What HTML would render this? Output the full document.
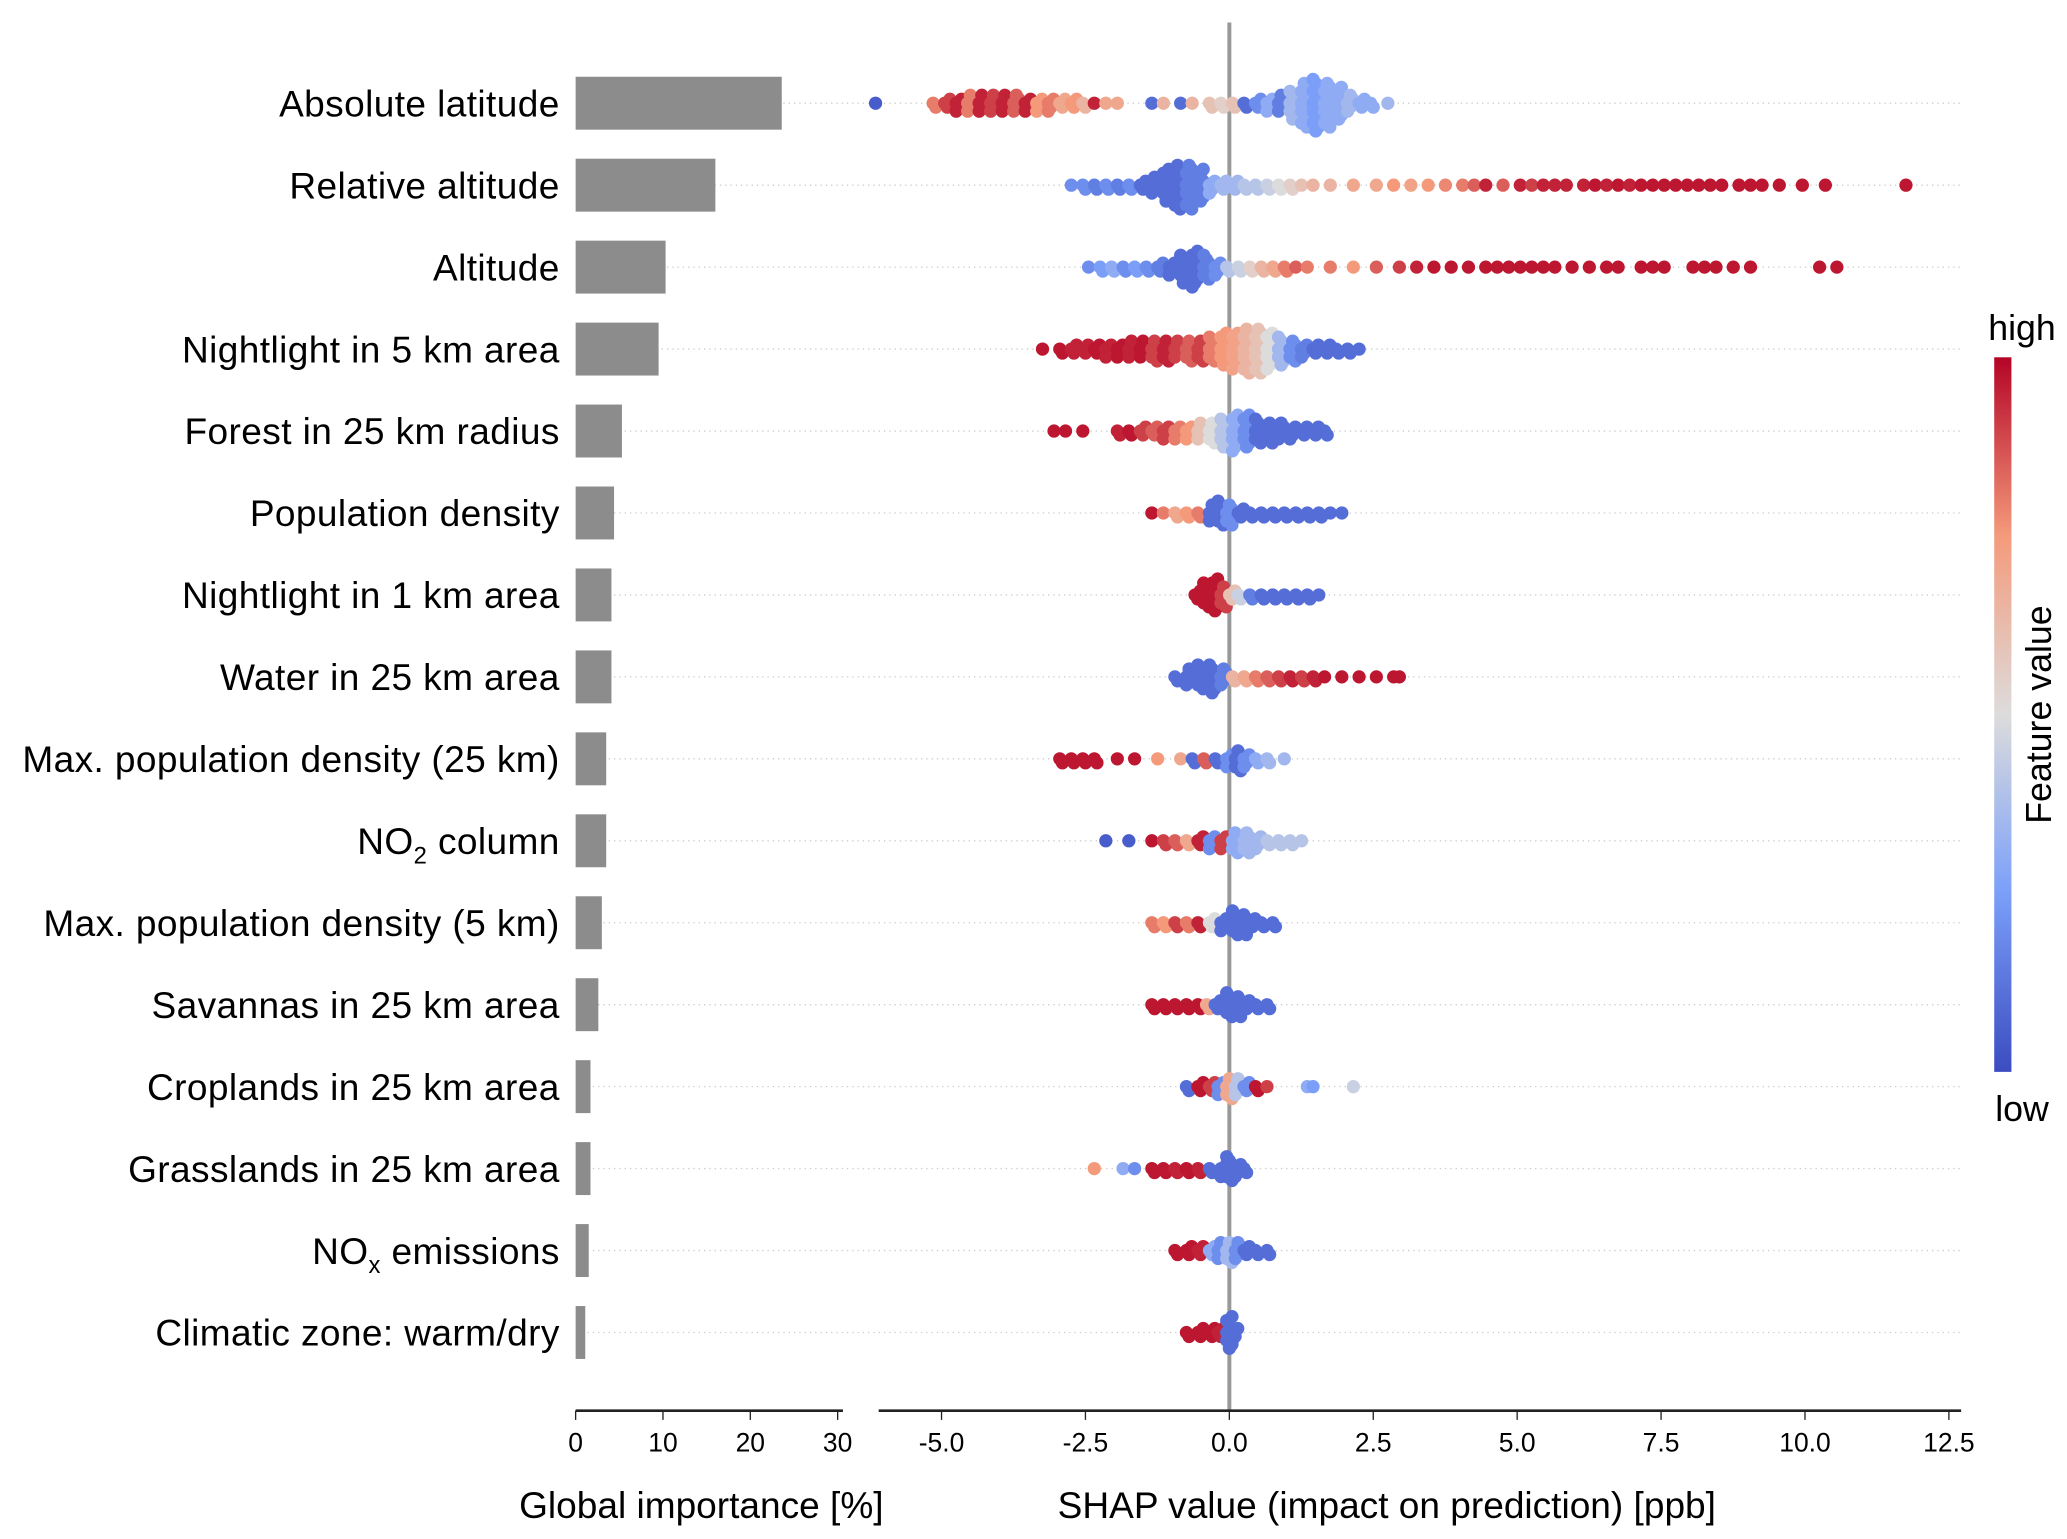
<!DOCTYPE html>
<html><head><meta charset="utf-8"><style>
html,body{margin:0;padding:0;background:#fff;}
svg{display:block;font-family:"Liberation Sans",sans-serif;}
</style></head><body>
<svg id="chart" width="2067" height="1539" viewBox="0 0 1562 1163" preserveAspectRatio="none" xmlns="http://www.w3.org/2000/svg">
<defs>
<linearGradient id="cbar" x1="0" y1="1" x2="0" y2="0">
<stop offset="0" stop-color="#3b4cc0"/><stop offset="0.25" stop-color="#7b9ff9"/><stop offset="0.5" stop-color="#dddcdc"/><stop offset="0.75" stop-color="#f49a7b"/><stop offset="1" stop-color="#b40426"/>
</linearGradient>
</defs>
<g id="grid"></g>
<g id="bars"></g>
<g id="dots"></g>
<g id="labels"></g>
<g id="axes"></g>
<g>
<rect x="1507" y="270" width="13" height="540" fill="url(#cbar)"/>
<text x="1528" y="257" font-size="27" text-anchor="middle">high</text>
<text x="1528" y="847" font-size="27" text-anchor="middle">low</text>
<text transform="translate(1550,540) rotate(-90)" font-size="27" text-anchor="middle">Feature value</text>
</g>
<text x="530" y="1147" font-size="28" text-anchor="middle">Global importance [%]</text>
<text x="1048" y="1147" font-size="28" text-anchor="middle">SHAP value (impact on prediction) [ppb]</text>
</svg>
<script>
const features = ["Absolute latitude","Relative altitude","Altitude","Nightlight in 5 km area","Forest in 25 km radius","Population density","Nightlight in 1 km area","Water in 25 km area","Max. population density (25 km)","NO2 column","Max. population density (5 km)","Savannas in 25 km area","Croplands in 25 km area","Grasslands in 25 km area","NOx emissions","Climatic zone: warm/dry"];
const importance = [23.6,16,10.3,9.5,5.3,4.4,4.1,4.1,3.5,3.5,3,2.6,1.7,1.7,1.5,1.1];
const impTicks = [0,10,20,30];
const shapTicks = [-5,-2.5,0,2.5,5,7.5,10,12.5];
const shapTickLabels = ["-5.0","-2.5","0.0","2.5","5.0","7.5","10.0","12.5"];
// each entry: [shap value, normalized feature value, count]
const s0=[[-6.1,0.05,1],[-5.1,0.8,2],[-4.9,0.9,3],[-4.7,0.95,4],[-4.5,0.8,5],[-4.3,0.95,5],[-4.1,0.9,5],[-3.9,0.95,5],[-3.7,0.85,5],[-3.5,0.95,4],[-3.3,0.75,4],[-3.1,0.8,4],[-2.9,0.7,3],[-2.7,0.75,3],[-2.5,0.65,2],[-2.3,0.95,1],[-2.1,0.7,1],[-1.9,0.7,1],[-1.3,0.1,1],[-1.1,0.65,1],[-0.8,0.1,1],[-0.6,0.65,1],[-0.3,0.6,2],[-0.1,0.55,2],[0.1,0.6,2],[0.3,0.1,2],[0.5,0.2,3],[0.7,0.3,4],[0.9,0.15,5],[1.1,0.35,8],[1.3,0.3,12],[1.5,0.25,14],[1.7,0.3,12],[1.9,0.3,9],[2.1,0.35,5],[2.3,0.3,3],[2.5,0.3,2],[2.8,0.35,1]];
const s1=[[-2.7,0.2,1],[-2.5,0.2,2],[-2.3,0.15,2],[-2.1,0.2,2],[-1.9,0.15,2],[-1.7,0.2,2],[-1.5,0.1,3],[-1.3,0.1,5],[-1.1,0.1,9],[-0.9,0.1,12],[-0.7,0.15,12],[-0.5,0.15,9],[-0.3,0.3,4],[-0.1,0.35,3],[0.1,0.35,3],[0.3,0.4,2],[0.5,0.4,2],[0.7,0.45,2],[0.9,0.5,2],[1.1,0.55,2],[1.3,0.6,1],[1.5,0.65,1],[1.8,0.65,1],[2.2,0.7,1],[2.6,0.7,1],[2.9,0.75,1],[3.2,0.72,1],[3.5,0.75,1],[3.8,0.78,1],[4.1,0.8,1],[4.3,0.85,1],[4.5,0.95,1],[4.8,0.85,1],[5.1,0.95,1],[5.3,0.9,1],[5.5,0.95,1],[5.7,0.95,1],[5.9,0.95,1],[6.2,0.95,1],[6.4,0.97,1],[6.6,0.95,1],[6.8,0.97,1],[7.0,0.95,1],[7.2,0.97,1],[7.4,0.97,1],[7.6,0.97,1],[7.8,0.97,1],[8.0,0.97,1],[8.2,0.97,1],[8.4,0.97,1],[8.6,0.97,1],[8.9,0.97,1],[9.1,0.97,1],[9.3,0.97,1],[9.6,0.97,1],[10.0,0.97,1],[10.4,0.97,1],[11.8,0.97,1]];
const s2=[[-2.4,0.2,1],[-2.2,0.25,2],[-2.0,0.3,2],[-1.8,0.2,2],[-1.6,0.25,2],[-1.4,0.2,2],[-1.2,0.15,3],[-1.0,0.1,4],[-0.8,0.1,8],[-0.6,0.1,10],[-0.4,0.15,7],[-0.2,0.2,4],[0.0,0.4,2],[0.2,0.45,2],[0.4,0.55,2],[0.6,0.65,2],[0.8,0.7,2],[1.0,0.8,2],[1.2,0.85,1],[1.4,0.8,1],[1.8,0.8,1],[2.2,0.75,1],[2.6,0.85,1],[3.0,0.9,1],[3.3,0.95,1],[3.6,0.97,1],[3.9,0.97,1],[4.2,0.97,1],[4.5,0.97,1],[4.7,0.97,1],[4.9,0.97,1],[5.1,0.97,1],[5.3,0.97,1],[5.5,0.97,1],[5.7,0.97,1],[6.0,0.97,1],[6.3,0.97,1],[6.6,0.97,1],[6.8,0.97,1],[7.2,0.97,1],[7.4,0.97,1],[7.6,0.97,1],[8.1,0.97,1],[8.3,0.97,1],[8.5,0.97,1],[8.8,0.97,1],[9.1,0.97,1],[10.3,0.97,1],[10.6,0.97,1]];
const s3=[[-3.2,0.97,1],[-2.9,0.97,2],[-2.7,0.95,3],[-2.5,0.95,3],[-2.3,0.97,3],[-2.1,0.95,4],[-1.9,0.97,4],[-1.7,0.95,5],[-1.5,0.97,5],[-1.3,0.9,6],[-1.1,0.95,6],[-0.9,0.9,5],[-0.7,0.85,6],[-0.5,0.9,6],[-0.3,0.8,7],[-0.1,0.75,9],[0.1,0.72,10],[0.3,0.65,12],[0.5,0.6,12],[0.7,0.5,10],[0.9,0.35,8],[1.1,0.2,6],[1.3,0.15,4],[1.5,0.1,3],[1.7,0.1,3],[1.9,0.1,2],[2.1,0.1,2],[2.3,0.1,1]];
const s4=[[-3.0,0.97,1],[-2.8,0.97,1],[-2.5,0.97,1],[-1.9,0.95,2],[-1.7,0.97,2],[-1.5,0.9,3],[-1.3,0.85,3],[-1.1,0.9,4],[-0.9,0.8,4],[-0.7,0.75,4],[-0.5,0.6,5],[-0.3,0.5,6],[-0.1,0.4,8],[0.1,0.3,10],[0.3,0.2,9],[0.5,0.1,7],[0.7,0.1,6],[0.9,0.1,5],[1.1,0.1,4],[1.3,0.1,3],[1.5,0.1,3],[1.7,0.1,2]];
const s5=[[-1.3,0.97,1],[-1.1,0.8,1],[-0.9,0.7,2],[-0.7,0.75,2],[-0.5,0.8,2],[-0.3,0.1,5],[-0.15,0.1,7],[0.0,0.2,6],[0.2,0.1,3],[0.4,0.1,2],[0.6,0.1,2],[0.8,0.1,2],[1.0,0.1,2],[1.2,0.1,2],[1.4,0.1,2],[1.6,0.1,2],[1.8,0.1,1],[2.0,0.1,1]];
const s6=[[-0.55,0.97,3],[-0.4,0.97,7],[-0.25,0.97,9],[-0.1,0.9,6],[0.05,0.6,3],[0.2,0.45,2],[0.4,0.15,2],[0.6,0.1,2],[0.8,0.1,2],[1.0,0.1,2],[1.2,0.1,2],[1.4,0.1,2],[1.6,0.1,1]];
const s7=[[-0.9,0.1,2],[-0.7,0.1,5],[-0.5,0.1,7],[-0.3,0.1,8],[-0.1,0.15,5],[0.1,0.65,2],[0.3,0.7,2],[0.5,0.8,2],[0.7,0.85,2],[0.9,0.9,2],[1.1,0.95,2],[1.3,0.9,2],[1.5,0.95,2],[1.7,0.97,1],[2.0,0.97,1],[2.3,0.97,1],[2.6,0.97,1],[2.9,0.97,1],[3.0,0.97,1]];
const s8=[[-2.9,0.97,2],[-2.7,0.97,2],[-2.5,0.97,2],[-2.3,0.97,2],[-1.9,0.97,1],[-1.6,0.97,1],[-1.2,0.75,1],[-0.8,0.7,1],[-0.6,0.1,2],[-0.4,0.85,2],[-0.2,0.1,2],[0.0,0.2,4],[0.15,0.1,6],[0.3,0.2,4],[0.5,0.3,2],[0.7,0.35,2],[1.0,0.35,1]];
const s9=[[-2.1,0.05,1],[-1.7,0.05,1],[-1.3,0.97,1],[-1.1,0.9,2],[-0.9,0.85,2],[-0.7,0.7,2],[-0.5,0.95,3],[-0.3,0.2,4],[-0.1,0.9,4],[0.1,0.3,6],[0.3,0.35,6],[0.5,0.35,4],[0.7,0.4,2],[0.9,0.4,2],[1.1,0.4,2],[1.3,0.4,1]];
const s10=[[-1.3,0.8,2],[-1.1,0.75,2],[-0.9,0.9,2],[-0.7,0.8,2],[-0.5,0.95,2],[-0.3,0.5,3],[-0.1,0.1,4],[0.1,0.1,7],[0.25,0.1,6],[0.4,0.1,3],[0.6,0.1,2],[0.8,0.1,2]];
const s11=[[-1.3,0.97,2],[-1.1,0.97,2],[-0.9,0.97,2],[-0.7,0.97,2],[-0.5,0.97,2],[-0.35,0.7,2],[-0.2,0.1,3],[0.0,0.1,7],[0.15,0.1,6],[0.3,0.1,3],[0.5,0.1,2],[0.7,0.1,2]];
const s12=[[-0.7,0.1,2],[-0.5,0.97,3],[-0.3,0.9,3],[-0.15,0.2,4],[0.0,0.7,6],[0.15,0.4,5],[0.3,0.2,3],[0.5,0.97,2],[0.7,0.9,1],[1.4,0.3,1],[1.5,0.25,1],[2.2,0.45,1]];
const s13=[[-2.3,0.75,1],[-1.8,0.3,1],[-1.6,0.2,1],[-1.3,0.97,2],[-1.1,0.97,2],[-0.9,0.95,2],[-0.7,0.97,2],[-0.5,0.95,2],[-0.3,0.1,2],[-0.1,0.1,4],[0.0,0.1,7],[0.15,0.1,4],[0.3,0.1,2]];
const s14=[[-0.9,0.97,2],[-0.7,0.97,3],[-0.5,0.95,3],[-0.3,0.3,3],[-0.15,0.2,5],[0.0,0.35,6],[0.15,0.2,5],[0.3,0.1,3],[0.5,0.1,2],[0.7,0.1,2]];
const s15=[[-0.7,0.97,2],[-0.5,0.97,3],[-0.3,0.97,3],[-0.15,0.95,3],[0.0,0.1,9],[0.1,0.1,4]];
const shapData=[s0,s1,s2,s3,s4,s5,s6,s7,s8,s9,s10,s11,s12,s13,s14,s15];

const NS="http://www.w3.org/2000/svg";
const rowY=i=>78+i*61.93;
const impX=v=>435+v*6.6;
const shapX=v=>929+v*43.5;
const stops=[[0,[59,76,192]],[0.25,[123,159,249]],[0.5,[221,220,220]],[0.75,[244,154,123]],[1,[180,4,38]]];
function cmap(t){for(let i=0;i<stops.length-1;i++){const a=stops[i],b=stops[i+1];if(t<=b[0]){const f=(t-a[0])/(b[0]-a[0]);return "rgb("+a[1].map((c,k)=>Math.round(c+(b[1][k]-c)*f)).join(",")+")";}}return "rgb(180,4,38)";}
function mk(tag,attrs,parent){const e=document.createElementNS(NS,tag);for(const k in attrs)e.setAttribute(k,attrs[k]);parent.appendChild(e);return e;}
const gGrid=document.getElementById("grid"),gBars=document.getElementById("bars"),gDots=document.getElementById("dots"),gLab=document.getElementById("labels"),gAx=document.getElementById("axes");

features.forEach((f,i)=>{
  const y=rowY(i);
  const gl=mk("line",{x1:440,x2:1482,y1:y,y2:y,stroke:"#cccccc","stroke-width":1,"stroke-dasharray":"1,3"},gGrid);
  
  
  const b=mk("rect",{x:impX(0),y:y-20,width:impX(importance[i])-impX(0),height:40,fill:"#8c8c8c"},gBars);
  
  
  const t=mk("text",{x:423,y:y+10,"font-size":28,"text-anchor":"end","letter-spacing":"0.3"},gLab);
  
  
  if(f==="NO2 column"){t.innerHTML='NO<tspan font-size="18" dy="7">2</tspan><tspan dy="-7"> column</tspan>';}
  else if(f==="NOx emissions"){t.innerHTML='NO<tspan font-size="18" dy="7">x</tspan><tspan dy="-7"> emissions</tspan>';}
  else t.textContent=f;
});

const zl=mk("line",{x1:shapX(0),x2:shapX(0),y1:17,y2:1066,stroke:"#999999","stroke-width":3},gGrid);



shapData.forEach((arr,i)=>{
  const y=rowY(i);
  arr.forEach(p=>{
    const [v,c,n]=p;
    for(let k=0;k<n;k++){
      const off=((k+1)>>1)*3*(k%2?1:-1);
      const dx=((k%3)-1)*2;
      const d=mk("circle",{cx:shapX(v)+dx,cy:y+off,r:5,fill:cmap(c)},gDots);
      
      
    }
  });
});

const a1=mk("line",{x1:435,x2:637,y1:1066,y2:1066,stroke:"#222","stroke-width":2},gAx);


impTicks.forEach(v=>{
  mk("line",{x1:impX(v),x2:impX(v),y1:1066,y2:1073,stroke:"#222","stroke-width":1},gAx);
  const t=mk("text",{x:impX(v),y:1097,"font-size":20,"text-anchor":"middle"},gAx);
  
  
  t.textContent=v;
});
const a2=mk("line",{x1:664,x2:1482,y1:1066,y2:1066,stroke:"#222","stroke-width":2},gAx);


shapTicks.forEach((v,j)=>{
  mk("line",{x1:shapX(v),x2:shapX(v),y1:1066,y2:1073,stroke:"#222","stroke-width":1},gAx);
  const t=mk("text",{x:shapX(v),y:1097,"font-size":20,"text-anchor":"middle"},gAx);
  
  
  t.textContent=shapTickLabels[j];
});
</script>
</body></html>
